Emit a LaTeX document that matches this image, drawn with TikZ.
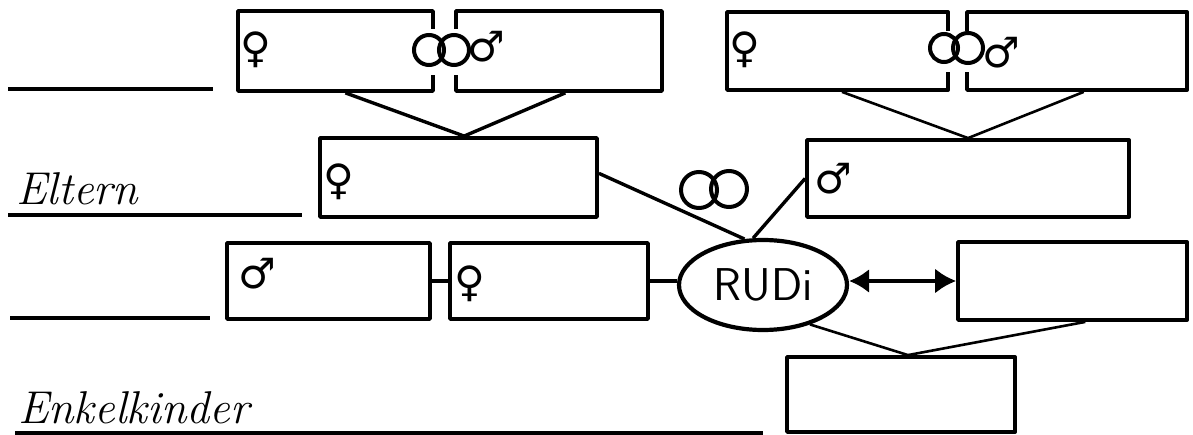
\documentclass[tikz,border=0pt]{standalone}
\usepackage{fontspec}
\usetikzlibrary{arrows.meta, calc, shapes.geometric}
\newfontfamily\gsym{DejaVu Sans}

\begin{document}
\begin{tikzpicture}[x=1pt,y=-1pt,
    box/.style={draw,line width=3.8pt,inner sep=0pt,line join=round},
    rudi/.style={draw,ellipse,line width=4.2pt,minimum width=168pt,minimum height=90pt,
      inner sep=0pt,font=\sffamily\fontsize{46}{46}\selectfont},
    link/.style={line width=3.4pt},
    thin/.style={line width=2.6pt},
    ring/.style={line width=4pt},
    hand/.style={font=\itshape\fontsize{46}{46}\selectfont,inner sep=0pt,anchor=base west},
    sym/.style={font=\gsym\bfseries\fontsize{42}{42}\selectfont,inner sep=0pt}]
  %\draw (0,0) grid (1193,435);
  \useasboundingbox (0,0) rectangle (1193,435);

  % grandparents, mother's side
  \node[box,minimum width=195pt,minimum height=80pt] (gm1) at (335.5,51) {};
  \node[box,minimum width=206pt,minimum height=80pt] (gf1) at (559,51) {};
  % grandparents, father's side
  \node[box,minimum width=221pt,minimum height=78pt] (gm2) at (837.5,51) {};
  \node[box,minimum width=220pt,minimum height=78pt] (gf2) at (1077,51) {};

  % parents
  \node[box,minimum width=277pt,minimum height=79pt] (mum) at (458.5,177.5) {};
  \node[box,minimum width=322pt,minimum height=77pt] (dad) at (968,178.5) {};

  % siblings, partner, children
  \node[box,minimum width=203pt,minimum height=76pt] (sib1) at (328.5,281) {};
  \node[box,minimum width=198pt,minimum height=76pt] (sib2) at (549,281) {};
  \node[rudi] (rudi) at (763,285) {RUDi};
  \node[box,minimum width=229pt,minimum height=78pt] (part) at (1072.5,281) {};
  \node[box,minimum width=228pt,minimum height=75pt] (kid) at (901,394.5) {};

  % gaps for the rings
  \fill[white] (426,29) rectangle (463,75);
  \fill[white] (941,31) rectangle (974,72);

  % rings
  \draw[ring] (429,50) circle[radius=15];
  \draw[ring] (454,50) circle[radius=15];
  \draw[ring] (944,48) circle[radius=14];
  \draw[ring] (968,48) circle[radius=15];
  \draw[ring] (699,190) circle[radius=18];
  \draw[ring] (729,189) circle[radius=18];

  % gender signs
  \node[sym] (s1) at (256,50) {♀};
  \node[sym] (s2) at (486,47) {♂};
  \node[sym] (s3) at (745,50) {♀};
  \node[sym] (s4) at (1001,53) {♂};
  \node[sym] (s5) at (339,182) {♀};
  \node[sym] (s6) at (833,179) {♂};
  \node[sym] (s7) at (257,274) {♂};
  \node[sym] (s8) at (470,284) {♀};

  % lines to the parents
  \coordinate (jm) at ($(mum.north west)!0.52!(mum.north east)$);
  \coordinate (jd) at ($(dad.north west)!0.5!(dad.north east)$);
  \coordinate (jk) at ($(kid.north west)!0.53!(kid.north east)$);
  \draw[link] ($(gm1.south west)!0.55!(gm1.south east)$) -- (jm);
  \draw[link] ($(gf1.south west)!0.53!(gf1.south east)$) -- (jm);
  \draw[thin] ($(gm2.south west)!0.52!(gm2.south east)$) -- (jd);
  \draw[thin] ($(gf2.south west)!0.53!(gf2.south east)$) -- (jd);

  % lines to rudi
  \draw[link] ($(mum.north east)!0.45!(mum.south east)$) -- (rudi.112);
  \draw[link] (dad.west) -- (rudi.102);
  \draw[link] (sib1.east) -- (sib2.west);
  \draw[link] (sib2.east) -- (rudi.west |- sib2.east);
  \draw[link,{Latex[length=20pt,width=24pt]}-{Latex[length=21pt,width=25pt]}]
    (rudi.east |- part.west) -- (part.west);

  % lines to the children
  \draw[thin] (rudi.-40) -- (jk);
  \draw[thin] ($(part.south west)!0.555!(part.south east)$) -- (jk);

  % labels
  \draw[link] (8,89) -- (213,89);
  \node[hand] (elt) at (16,205) {Eltern};
  \draw[link] (8,215) -- (302,215);
  \draw[link] (10,318) -- (210,318);
  \node[hand] (enk) at (18,423) {Enkelkinder};
  \draw[link] (15,433) -- (763,433);

\end{tikzpicture}
\end{document}
